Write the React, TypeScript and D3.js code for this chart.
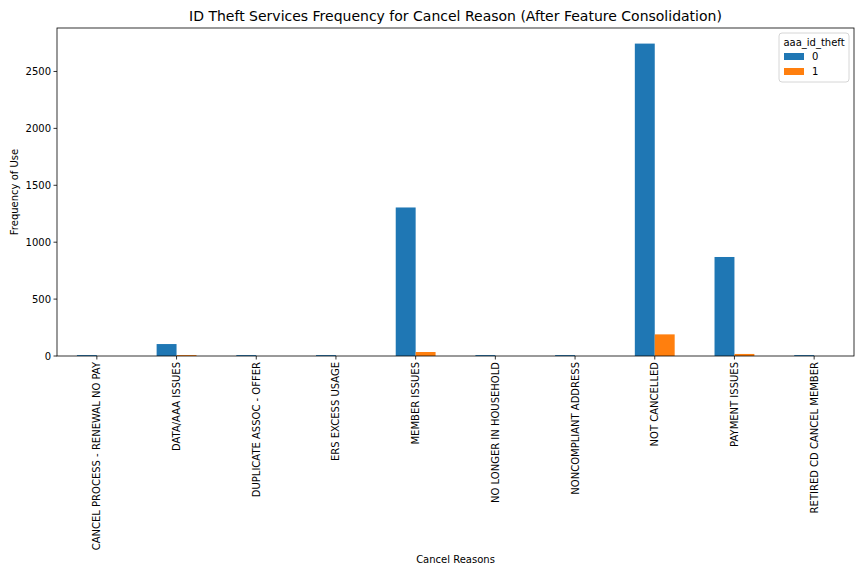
import * as d3 from "d3";

const categories = [
  "CANCEL PROCESS - RENEWAL NO PAY",
  "DATA/AAA ISSUES",
  "DUPLICATE ASSOC - OFFER",
  "ERS EXCESS USAGE",
  "MEMBER ISSUES",
  "NO LONGER IN HOUSEHOLD",
  "NONCOMPLIANT ADDRESS",
  "NOT CANCELLED",
  "PAYMENT ISSUES",
  "RETIRED CD CANCEL MEMBER",
];
const series0 = [8, 105, 8, 8, 1305, 8, 8, 2745, 870, 8];
const series1 = [0, 8, 0, 0, 35, 0, 0, 190, 18, 0];
const yTicks = [0, 500, 1000, 1500, 2000, 2500];

const W = 864, H = 576;
const L = 57, R = 854, T = 28, B = 356;
const font = "DejaVu Sans, sans-serif";

export default function App() {
  const x = d3.scaleBand().domain(categories).range([L, R]);
  const y = d3.scaleLinear().domain([0, 2882]).range([B, T]);
  const bw = x.bandwidth() / 4;
  const colors = ["#1f77b4", "#ff7f0e"];
  return (
    <svg width={W} height={H} style={{ display: "block", margin: -8 }} fontFamily={font}>
      <rect width={W} height={H} fill="#fff" />
      <text x={(L + R) / 2} y={21} textAnchor="middle" fontSize={14}>
        ID Theft Services Frequency for Cancel Reason (After Feature Consolidation)
      </text>
      {[series0, series1].map((s, si) =>
        s.map((v, i) => {
          const cx = x(categories[i])! + x.bandwidth() / 2;
          return (
            <rect key={si + "-" + i} x={cx - bw + si * bw} y={y(v)} width={bw}
              height={B - y(v)} fill={colors[si]} />
          );
        })
      )}
      <rect x={L} y={T} width={R - L} height={B - T} fill="none" stroke="#000" strokeWidth={0.8} />
      {yTicks.map((t) => (
        <g key={t}>
          <line x1={L - 3.5} x2={L} y1={y(t)} y2={y(t)} stroke="#000" strokeWidth={0.8} />
          <text x={L - 6} y={y(t) + 3.5} textAnchor="end" fontSize={10}>{t}</text>
        </g>
      ))}
      {categories.map((c) => {
        const cx = x(c)! + x.bandwidth() / 2;
        return (
          <g key={c}>
            <line x1={cx} x2={cx} y1={B} y2={B + 3.5} stroke="#000" strokeWidth={0.8} />
            <text transform={`translate(${cx + 3.5},${B + 6}) rotate(-90)`} textAnchor="end" fontSize={10}>{c}</text>
          </g>
        );
      })}
      <text transform={`translate(18,${(T + B) / 2}) rotate(-90)`} textAnchor="middle" fontSize={10}>Frequency of Use</text>
      <text x={(L + R) / 2} y={563} textAnchor="middle" fontSize={10}>Cancel Reasons</text>
      <g transform="translate(779,33)">
        <rect width={70} height={49} rx={3} fill="#fff" stroke="#ccc" strokeWidth={0.8} />
        <text x={35} y={13} textAnchor="middle" fontSize={10}>aaa_id_theft</text>
        {["0", "1"].map((l, i) => (
          <g key={l} transform={`translate(5,${20 + i * 15})`}>
            <rect width={20} height={7} fill={colors[i]} />
            <text x={28} y={7} fontSize={10}>{l}</text>
          </g>
        ))}
      </g>
    </svg>
  );
}
